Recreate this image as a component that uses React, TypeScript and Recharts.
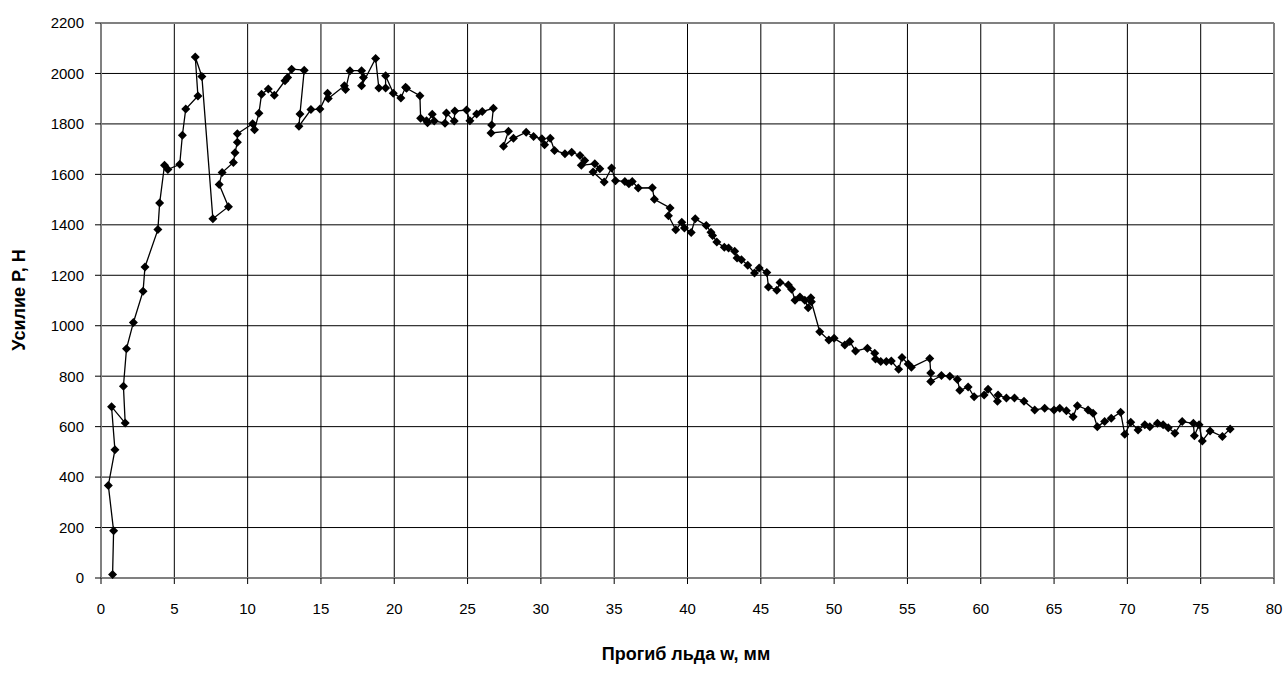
import React from 'react';
import {
  ScatterChart, Scatter, XAxis, YAxis, CartesianGrid, ReferenceLine
} from 'recharts';

// deflection w, mm (in the order the points were recorded)
const deflection = [
  0.79, 0.86, 0.5, 0.95, 0.72, 1.65, 1.53, 1.74, 2.21, 2.87, 3.0, 3.88, 4.0, 4.33, 4.56, 5.37, 5.55, 5.78,
  6.61, 6.43, 6.88, 7.63, 8.69, 8.06, 8.26, 9.03, 9.14, 9.3, 9.3, 10.34, 10.47, 10.77, 10.95, 11.41, 11.82,
  12.55, 12.73, 13.0, 13.86, 13.57, 13.5, 14.32, 14.93, 15.45, 15.5, 16.6, 16.68, 16.98, 17.77, 17.9, 17.77,
  18.73, 18.95, 19.41, 19.41, 19.93, 20.45, 20.77, 20.84, 21.75, 21.8, 22.2, 22.27, 22.59, 22.73, 23.46,
  23.56, 24.09, 24.13, 24.93, 25.16, 25.62, 26.0, 26.76, 26.64, 26.6, 27.79, 27.45, 28.13, 29.0, 29.5,
  30.07, 30.25, 30.64, 30.93, 31.64, 32.1, 32.67, 32.99, 32.76, 33.68, 34.02, 33.56, 34.32, 34.82, 35.09,
  35.73, 36.0, 36.23, 36.64, 37.6, 37.74, 38.81, 38.7, 39.2, 39.61, 39.79, 40.25, 40.53, 41.28, 41.6,
  41.71, 42.0, 42.51, 42.8, 43.22, 43.38, 43.68, 44.11, 44.57, 44.89, 45.41, 45.52, 46.09, 46.31, 46.88,
  47.1, 47.33, 47.67, 48.0, 48.23, 48.41, 48.45, 49.02, 49.64, 50.0, 50.73, 51.07, 51.46, 52.27, 52.77,
  52.82, 53.18, 53.56, 53.9, 54.4, 54.63, 55.05, 55.27, 56.52, 56.59, 56.59, 57.32, 57.89, 58.41, 58.57,
  59.14, 59.55, 60.23, 60.5, 61.14, 61.18, 61.75, 62.3, 62.95, 63.68, 64.36, 65.0, 65.39, 65.84, 66.3,
  66.59, 67.32, 67.66, 67.95, 68.45, 68.9, 69.54, 69.82, 70.23, 70.73, 71.19, 71.53, 72.05, 72.44, 72.79,
  73.24, 73.74, 74.5, 74.57, 74.89, 75.11, 75.64, 76.48, 77.01
];

// force P, N
const force = [
  14, 187, 367, 508, 679, 614, 760, 909, 1013, 1137, 1233, 1381, 1486, 1636, 1619, 1640, 1755, 1859,
  1911, 2065, 1988, 1424, 1472, 1560, 1607, 1647, 1686, 1727, 1761, 1801, 1777, 1842, 1918, 1938, 1914,
  1971, 1984, 2017, 2013, 1839, 1791, 1857, 1859, 1922, 1901, 1951, 1936, 2011, 2011, 1984, 1951,
  2059, 1942, 1942, 1991, 1922, 1903, 1945, 1941, 1912, 1822, 1813, 1805, 1838, 1812, 1803,
  1843, 1812, 1851, 1855, 1813, 1839, 1849, 1862, 1796, 1764, 1771, 1711, 1743, 1767, 1750,
  1741, 1717, 1743, 1695, 1682, 1688, 1675, 1655, 1636, 1642, 1622, 1609, 1570, 1625, 1575,
  1572, 1563, 1572, 1546, 1547, 1501, 1467, 1436, 1380, 1410, 1387, 1370, 1424, 1397, 1371,
  1358, 1332, 1311, 1308, 1295, 1268, 1262, 1240, 1209, 1229, 1211, 1154, 1141, 1171, 1161,
  1145, 1101, 1114, 1101, 1071, 1111, 1095, 976, 943, 950, 924, 937, 900, 911, 891,
  868, 858, 858, 860, 827, 874, 848, 835, 870, 813, 779, 803, 800, 787, 744,
  757, 718, 725, 748, 701, 725, 714, 714, 701, 666, 673, 666, 673, 663, 639,
  683, 666, 653, 600, 620, 633, 657, 570, 617, 587, 607, 600, 613, 607, 596,
  574, 620, 613, 564, 607, 543, 583, 561, 591
];

const xTicks = [0, 5, 10, 15, 20, 25, 30, 35, 40, 45, 50, 55, 60, 65, 70, 75, 80];
const yTicks = [0, 200, 400, 600, 800, 1000, 1200, 1400, 1600, 1800, 2000, 2200];

const data = deflection.map((w, i) => ({ w, p: force[i] }));

const font = '"Liberation Sans", Arial, sans-serif';

const Diamond = (props: any) => {
  const { cx, cy } = props;
  const r = 4.5;
  return (
    <polygon
      points={`${cx},${cy - r} ${cx + r},${cy} ${cx},${cy + r} ${cx - r},${cy}`}
      fill="#000"
    />
  );
};

export default function App() {
  return (
    <div style={{ position: 'absolute', left: 0, top: 0, width: 1288, height: 675, background: '#fff', fontFamily: font }}>
      <ScatterChart width={1288} height={675} margin={{ top: 23, right: 14, left: 0, bottom: 0 }}>
        <CartesianGrid stroke="#000" strokeWidth={1} />
        <XAxis
          type="number"
          dataKey="w"
          domain={[0, 80]}
          ticks={xTicks}
          height={97}
          tickSize={6}
          tickMargin={19}
          axisLine={{ stroke: '#808080', strokeWidth: 2 }}
          tickLine={{ stroke: '#000' }}
          tick={{ fill: '#000', fontSize: 15, fontFamily: font }}
          interval={0}
        />
        <YAxis
          type="number"
          dataKey="p"
          domain={[0, 2200]}
          ticks={yTicks}
          width={101}
          tickSize={6}
          tickMargin={11}
          axisLine={{ stroke: '#808080', strokeWidth: 2 }}
          tickLine={{ stroke: '#000' }}
          tick={{ fill: '#000', fontSize: 15, fontFamily: font }}
          interval={0}
        />
        <ReferenceLine y={2200} stroke="#808080" strokeWidth={2} />
        <ReferenceLine x={80} stroke="#808080" strokeWidth={2} />
        <Scatter
          data={data}
          line={{ stroke: '#000', strokeWidth: 1.3 }}
          lineType="joint"
          shape={<Diamond />}
          isAnimationActive={false}
        />
      </ScatterChart>
      <div style={{ position: 'absolute', left: 686, top: 654, transform: 'translate(-50%, -50%)', whiteSpace: 'nowrap', fontWeight: 'bold', fontSize: 18 }}>
        Прогиб льда w, мм
      </div>
      <div style={{ position: 'absolute', left: 19, top: 300, transform: 'translate(-50%, -50%) rotate(-90deg)', whiteSpace: 'nowrap', fontWeight: 'bold', fontSize: 18 }}>
        Усилие P, Н
      </div>
    </div>
  );
}
